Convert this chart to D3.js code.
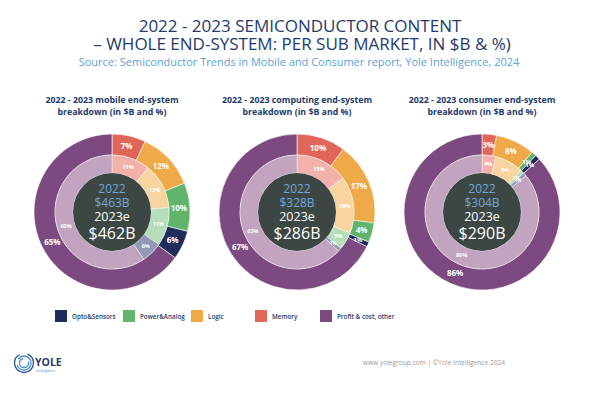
<!DOCTYPE html>
<html>
<head>
<meta charset="utf-8">
<title>Semiconductor content per sub market</title>
<script src="https://d3js.org/d3.v7.min.js"></script>
<style>
  body { margin: 0; background: #fff; }
  svg { font-family: "Open Sans", sans-serif; display: block; }
</style>
</head>
<body>
<svg id="chart" width="600" height="400"></svg>
<script>
// slice order, clockwise from 12 o'clock
const sliceOrder = ["Memory", "Logic", "Power&Analog", "Opto&Sensors", "Profit & cost, other"];
const legendOrder = ["Opto&Sensors", "Power&Analog", "Logic", "Memory", "Profit & cost, other"];

const markets = ["mobile", "computing", "consumer"];
// shares in %, same order as sliceOrder
const mobile2022 = [11, 13, 11, 6, 60];
const mobile2023 = [7, 12, 10, 6, 65];
const computing2022 = [15, 16, 5, 1, 63];
const computing2023 = [10, 17, 4, 1, 67];
const consumer2022 = [4, 8, 1, 1, 86];
const consumer2023 = [3, 8, 1, 1, 86];
const totals2022 = ["$463B", "$328B", "$304B"];
const totals2023 = ["$462B", "$286B", "$290B"];

const inner2022 = [mobile2022, computing2022, consumer2022];
const outer2023 = [mobile2023, computing2023, consumer2023];

const darkColor = d3.scaleOrdinal()
  .domain(sliceOrder)
  .range(["#e0665a", "#f0a948", "#62b46c", "#1f2d5c", "#7c4a80"]);
const lightColor = d3.scaleOrdinal()
  .domain(sliceOrder)
  .range(["#f2b1ab", "#f7d4a0", "#b7deb9", "#9299b6", "#c2a4c1"]);

const svg = d3.select("#chart");
const navy = "#243a6a";

// titles
svg.append("text").attr("x", 300).attr("y", 32).attr("text-anchor", "middle")
  .attr("fill", navy).attr("font-size", 17)
  .text("2022 - 2023 SEMICONDUCTOR CONTENT");
svg.append("text").attr("x", 302).attr("y", 50).attr("text-anchor", "middle")
  .attr("fill", navy).attr("font-size", 17)
  .text("\u2013 WHOLE END-SYSTEM: PER SUB MARKET, IN $B & %)");
svg.append("text").attr("x", 299).attr("y", 66).attr("text-anchor", "middle")
  .attr("fill", "#5d9fd6").attr("font-size", 11)
  .text("Source: Semiconductor Trends in Mobile and Consumer report, Yole Intelligence, 2024");

const xPos = d3.scalePoint().domain(markets).range([112, 482]);
const cy = 212;
const rOuter = 78, rMid = 57, rInner = 39;

const pie = d3.pie().sort(null).value(d => d.v);
const arcOut = d3.arc().innerRadius(rMid).outerRadius(rOuter);
const arcIn = d3.arc().innerRadius(rInner).outerRadius(rMid);
const lblOut = d3.arc().innerRadius(67).outerRadius(67);
const lblIn = d3.arc().innerRadius(48).outerRadius(48);

markets.forEach((m, i) => {
  const cx = xPos(m);
  svg.append("text").attr("x", cx).attr("y", 103).attr("text-anchor", "middle")
    .attr("fill", navy).attr("font-size", 8.8).attr("font-weight", "bold")
    .text(`2022 - 2023 ${m} end-system`);
  svg.append("text").attr("x", cx).attr("y", 115).attr("text-anchor", "middle")
    .attr("fill", navy).attr("font-size", 8.8).attr("font-weight", "bold")
    .text("breakdown (in $B and %)");

  const g = svg.append("g").attr("transform", `translate(${cx},${cy})`);
  const outData = pie(sliceOrder.map((k, j) => ({k, v: outer2023[i][j]})));
  const inData = pie(sliceOrder.map((k, j) => ({k, v: inner2022[i][j]})));

  g.selectAll("path.out").data(outData).enter().append("path")
    .attr("class", "out").attr("d", arcOut)
    .attr("fill", d => darkColor(d.data.k))
    .attr("stroke", "#fff").attr("stroke-width", 0.6);
  g.selectAll("path.in").data(inData).enter().append("path")
    .attr("class", "in").attr("d", arcIn)
    .attr("fill", d => lightColor(d.data.k))
    .attr("stroke", "#fff").attr("stroke-width", 0.4);

  g.selectAll("text.out").data(outData).enter().append("text")
    .attr("class", "out")
    .attr("transform", d => `translate(${lblOut.centroid(d)})`)
    .attr("text-anchor", "middle").attr("dy", "0.35em")
    .attr("fill", "#fff").attr("font-size", d => d.data.v <= 1 ? 6 : 8)
    .attr("font-weight", "bold")
    .text(d => d.data.v + "%");
  g.selectAll("text.in").data(inData).enter().append("text")
    .attr("class", "in")
    .attr("transform", d => `translate(${lblIn.centroid(d)})`)
    .attr("text-anchor", "middle").attr("dy", "0.35em")
    .attr("fill", "#fff").attr("font-size", d => d.data.v <= 1 ? 4.5 : 5.5)
    .attr("font-weight", "bold")
    .text(d => d.data.v + "%");

  g.append("circle").attr("r", rInner).attr("fill", "#3c4643");
  g.append("text").attr("y", -19).attr("text-anchor", "middle")
    .attr("fill", "#6ea6da").attr("font-size", 12).text("2022");
  g.append("text").attr("y", -5).attr("text-anchor", "middle")
    .attr("fill", "#6ea6da").attr("font-size", 12).text(totals2022[i]);
  g.append("text").attr("y", 9).attr("text-anchor", "middle")
    .attr("fill", "#fff").attr("font-size", 12.5).text("2023e");
  g.append("text").attr("y", 27).attr("text-anchor", "middle")
    .attr("fill", "#fff").attr("font-size", 16).text(totals2023[i]);
});

// legend
const legendX = d3.scaleOrdinal().domain(legendOrder).range([55, 123, 191, 255, 320]);
const lg = svg.selectAll("g.legend").data(legendOrder).enter().append("g")
  .attr("class", "legend")
  .attr("transform", d => `translate(${legendX(d)},310)`);
lg.append("rect").attr("width", 12).attr("height", 12)
  .attr("fill", d => darkColor(d));
lg.append("text").attr("x", 17).attr("y", 8.5)
  .attr("fill", navy).attr("font-size", 6.3).attr("font-weight", 600)
  .text(d => d);

// footer logo
const logo = svg.append("g").attr("transform", "translate(24,363)");
[9.5, 7, 4.5].forEach((r, k) => {
  logo.append("circle").attr("r", r).attr("fill", "none")
    .attr("stroke", k === 0 ? "#2b4f8a" : "#4a8fd0").attr("stroke-width", 1.3)
    .attr("stroke-dasharray", k === 0 ? "40 8" : "20 6");
});
svg.append("text").attr("x", 35).attr("y", 366).attr("fill", "#243a6a")
  .attr("font-size", 10.5).attr("font-weight", "bold").text("YOLE");
svg.append("text").attr("x", 36).attr("y", 372).attr("fill", "#4a8fd0")
  .attr("font-size", 3.5).text("Intelligence");

svg.append("text").attr("x", 505).attr("y", 365).attr("text-anchor", "end")
  .attr("fill", "#9a9a9a").attr("font-size", 6.6)
  .text("www.yolegroup.com | \u00a9Yole Intelligence 2024");
</script>
</body>
</html>
